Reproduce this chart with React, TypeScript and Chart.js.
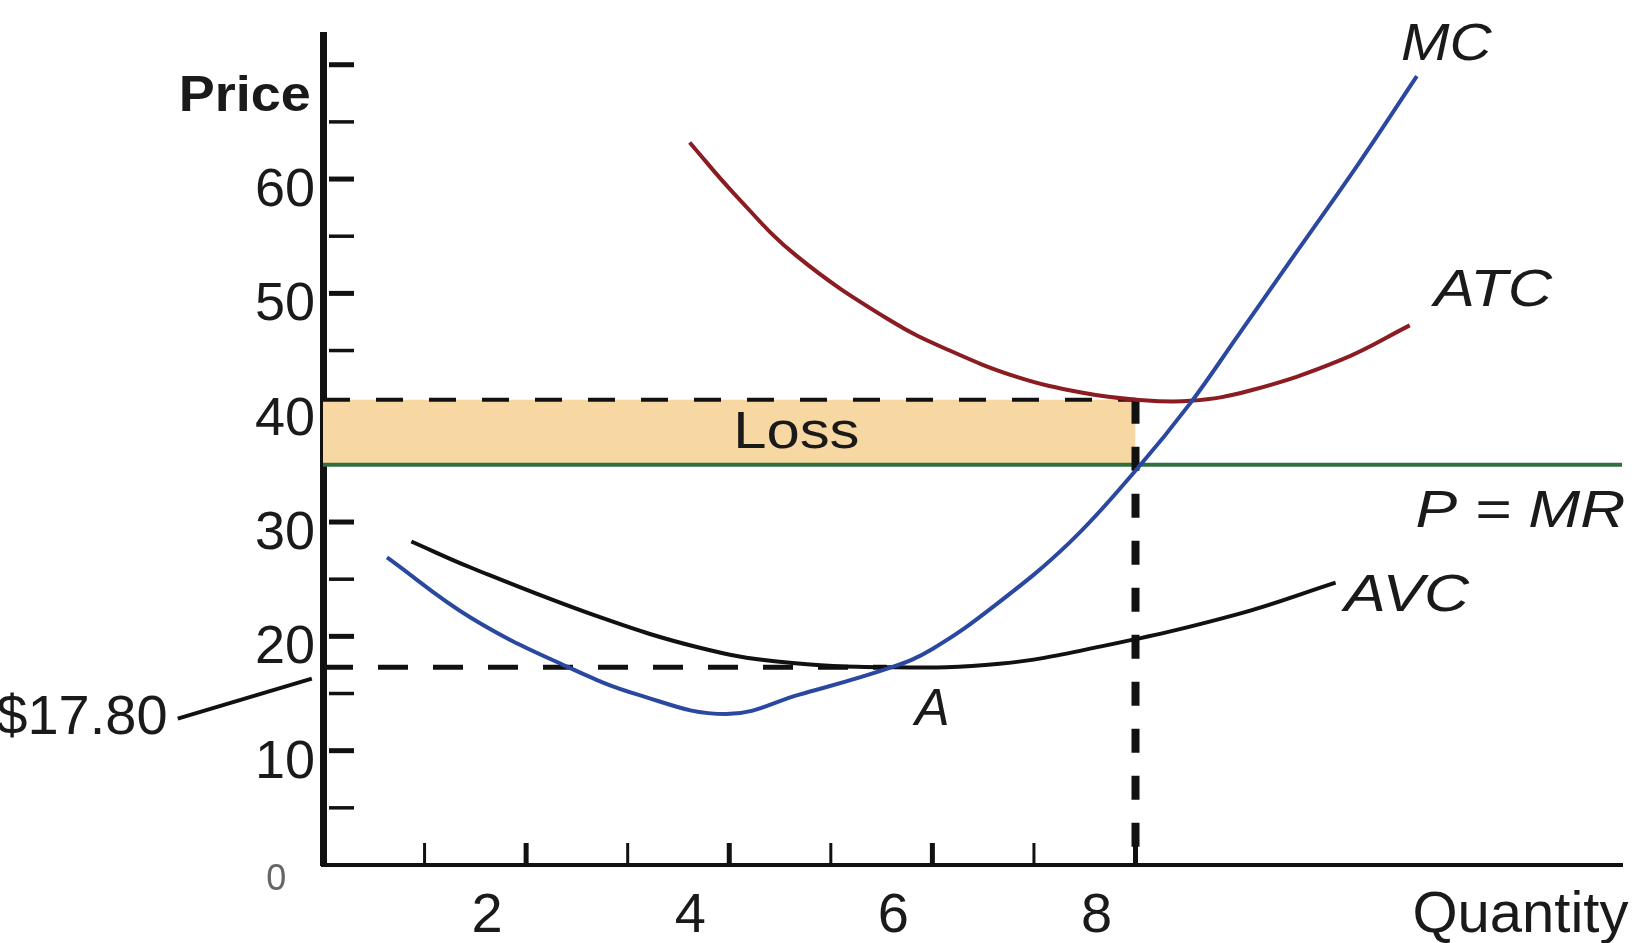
import React, { useEffect, useRef } from "react";
import { Chart, registerables } from "chart.js";

Chart.register(...registerables);

// ---- data ----
const mcQ = [0.63, 1.46, 2.39, 3.1, 3.97, 4.69, 5.6, 6.0, 6.6, 7.35, 8.01, 8.54, 9.0, 9.6, 10.2, 10.77];
const mcP = [26.9, 21.6, 17.4, 14.9, 13.2, 14.9, 17.3, 18.9, 22.6, 28.2, 34.6, 40.4, 46.2, 53.8, 61.4, 69.0];
const atcQ = [3.61, 4.04, 4.66, 5.59, 6.17, 6.83, 7.48, 8.01, 8.54, 9.13, 10.03, 10.7];
const atcP = [63.2, 58.8, 53.3, 47.6, 45.0, 42.7, 41.3, 40.7, 40.6, 41.5, 44.2, 47.2];
const avcQ = [0.87, 1.46, 2.72, 3.71, 4.47, 5.58, 6.66, 7.65, 8.99, 9.97];
const avcP = [28.3, 26.0, 21.7, 19.0, 17.8, 17.3, 17.6, 19.1, 21.9, 24.7];

const priceMR = 35;
const qStar = 8;
const atcAtQStar = 40.7;
const avcMinQ = 5.55;
const avcMinP = 17.3;
const qMax = 12.79;
const pMax = 72.6;

const xTickLabels = [2, 4, 6, 8];
const xTickMarks = [1, 2, 3, 4, 5, 6, 7, 8];
const yTickLabels = [10, 20, 30, 40, 50, 60];
const yTickMarks = [5, 10, 15, 20, 25, 30, 45, 50, 55, 60, 65, 70];

const FONT = "'Liberation Sans', Arial, sans-serif";

type Ann = {
  text: string; q: number; p: number; size: number;
  italic?: boolean; bold?: boolean; align?: CanvasTextAlign; stretch?: number; color?: string;
};

const annotations: Ann[] = [
  { text: "MC", q: 11.06, p: 71.7, size: 52, italic: true, stretch: 1.12 },
  { text: "ATC", q: 11.52, p: 50.2, size: 52, italic: true, stretch: 1.18 },
  { text: "P = MR", q: 11.79, p: 30.8, size: 52, italic: true, stretch: 1.2 },
  { text: "AVC", q: 10.67, p: 23.5, size: 52, italic: true, stretch: 1.2 },
  { text: "A", q: 6.0, p: 13.5, size: 52, italic: true },
  { text: "Loss", q: 4.66, p: 37.7, size: 52, stretch: 1.15 },
  { text: "Price", q: -0.12, p: 67.2, size: 50, bold: true, align: "right", stretch: 1.08 },
  { text: "Quantity", q: 11.79, p: -4.5, size: 58 },
  { text: "0", q: -0.46, p: -1.3, size: 36, color: "#666" },
  { text: "$17.80", q: -1.53, p: 12.8, size: 56, align: "right" },
];

const leaderFrom = { q: -1.43, p: 12.8 };
const leaderTo = { q: -0.11, p: 16.3 };

const pts = (xs: number[], ys: number[]) => xs.map((x, i) => ({ x, y: ys[i] }));

const overlay = {
  id: "overlay",
  afterDatasetsDraw(chart: any) {
    const { ctx, scales } = chart;
    const xs = scales.x;
    const ys = scales.y;
    const left = chart.chartArea.left;
    const bottom = chart.chartArea.bottom;
    ctx.save();
    ctx.strokeStyle = "#111";
    ctx.lineCap = "butt";
    // y tick marks (inside)
    yTickMarks.forEach((v) => {
      const y = ys.getPixelForValue(v);
      ctx.lineWidth = v % 10 === 0 ? 5 : 3.5;
      ctx.beginPath();
      ctx.moveTo(left + 6, y);
      ctx.lineTo(left + 31, y);
      ctx.stroke();
    });
    // x tick marks (inside)
    xTickMarks.forEach((v) => {
      const x = xs.getPixelForValue(v);
      ctx.lineWidth = v % 2 === 0 ? 5 : 3;
      ctx.beginPath();
      ctx.moveTo(x, bottom);
      ctx.lineTo(x, bottom - 22);
      ctx.stroke();
    });
    // leader line for $17.80
    ctx.lineWidth = 4;
    ctx.beginPath();
    ctx.moveTo(xs.getPixelForValue(leaderFrom.q), ys.getPixelForValue(leaderFrom.p));
    ctx.lineTo(xs.getPixelForValue(leaderTo.q), ys.getPixelForValue(leaderTo.p));
    ctx.stroke();
    // text labels
    annotations.forEach((a) => {
      const x = xs.getPixelForValue(a.q);
      const y = ys.getPixelForValue(a.p);
      ctx.save();
      ctx.translate(x, y);
      ctx.scale(a.stretch || 1, 1);
      ctx.font = `${a.italic ? "italic " : ""}${a.bold ? "bold " : ""}${a.size}px ${FONT}`;
      ctx.fillStyle = a.color || "#1a1a1a";
      ctx.textAlign = a.align || "center";
      ctx.textBaseline = "middle";
      ctx.fillText(a.text, 0, 0);
      ctx.restore();
    });
    ctx.restore();
  },
};

export default function App() {
  const ref = useRef<HTMLCanvasElement>(null);
  useEffect(() => {
    const chart = new Chart(ref.current as HTMLCanvasElement, {
      type: "line",
      data: {
        datasets: [
          {
            label: "MC",
            data: pts(mcQ, mcP),
            borderColor: "#2a48a0",
            borderWidth: 4,
            tension: 0.4,
            pointRadius: 0,
            fill: false,
          },
          {
            label: "ATC",
            data: pts(atcQ, atcP),
            borderColor: "#8a1c22",
            borderWidth: 4,
            tension: 0.4,
            pointRadius: 0,
            fill: false,
          },
          {
            label: "AVC",
            data: pts(avcQ, avcP),
            borderColor: "#111",
            borderWidth: 4,
            tension: 0.4,
            pointRadius: 0,
            fill: false,
          },
          {
            label: "Q*",
            data: pts([qStar, qStar], [atcAtQStar, 0]),
            borderColor: "#111",
            borderWidth: 8,
            borderDash: [24, 23],
            pointRadius: 0,
            fill: false,
          },
          {
            label: "AVC min",
            data: pts([0, avcMinQ], [avcMinP, avcMinP]),
            borderColor: "#111",
            borderWidth: 5,
            borderDash: [30, 25],
            pointRadius: 0,
            fill: false,
          },
          {
            label: "P = MR",
            data: pts([0, qMax], [priceMR, priceMR]),
            borderColor: "#2f6f40",
            borderWidth: 4,
            pointRadius: 0,
            fill: false,
          },
          {
            label: "Loss",
            data: pts([0, qStar], [atcAtQStar, atcAtQStar]),
            borderColor: "#111",
            borderWidth: 4,
            borderDash: [27, 26],
            pointRadius: 0,
            backgroundColor: "#f8d8a2",
            fill: { target: { value: priceMR } },
          },
        ],
      },
      options: {
        animation: false,
        responsive: false,
        maintainAspectRatio: false,
        layout: { padding: { left: 0, top: 30, right: 21, bottom: 0 } },
        plugins: {
          legend: { display: false },
          tooltip: { enabled: false },
          filler: { drawTime: "beforeDatasetsDraw" },
        },
        scales: {
          x: {
            type: "linear",
            min: 0,
            max: qMax,
            grid: { drawOnChartArea: false, drawTicks: false, color: "rgba(0,0,0,0)" },
            border: { display: true, color: "#111", width: 4 },
            ticks: {
              font: { family: FONT, size: 56, lineHeight: 1 },
              color: "#1a1a1a",
              padding: 24,
              labelOffset: -39,
              maxRotation: 0,
              autoSkip: false,
            },
            afterBuildTicks: (s: any) => {
              s.ticks = xTickLabels.map((v) => ({ value: v }));
            },
            afterFit: (s: any) => {
              s.height = 78;
            },
          },
          y: {
            type: "linear",
            min: 0,
            max: pMax,
            grid: { drawOnChartArea: false, drawTicks: false, color: "rgba(0,0,0,0)" },
            border: { display: true, color: "#111", width: 7 },
            ticks: {
              font: { family: FONT, size: 54, lineHeight: 1 },
              color: "#1a1a1a",
              padding: 8,
              labelOffset: 12,
              autoSkip: false,
            },
            afterBuildTicks: (s: any) => {
              s.ticks = yTickLabels.map((v) => ({ value: v }));
            },
            afterFit: (s: any) => {
              s.width = 323;
            },
          },
        },
      } as any,
      plugins: [overlay],
    });
    return () => chart.destroy();
  }, []);

  return (
    <div style={{ position: "fixed", left: 0, top: 0, width: 1643, height: 943, background: "#fff" }}>
      <canvas ref={ref} width={1643} height={943} style={{ width: 1643, height: 943, display: "block" }} />
    </div>
  );
}
